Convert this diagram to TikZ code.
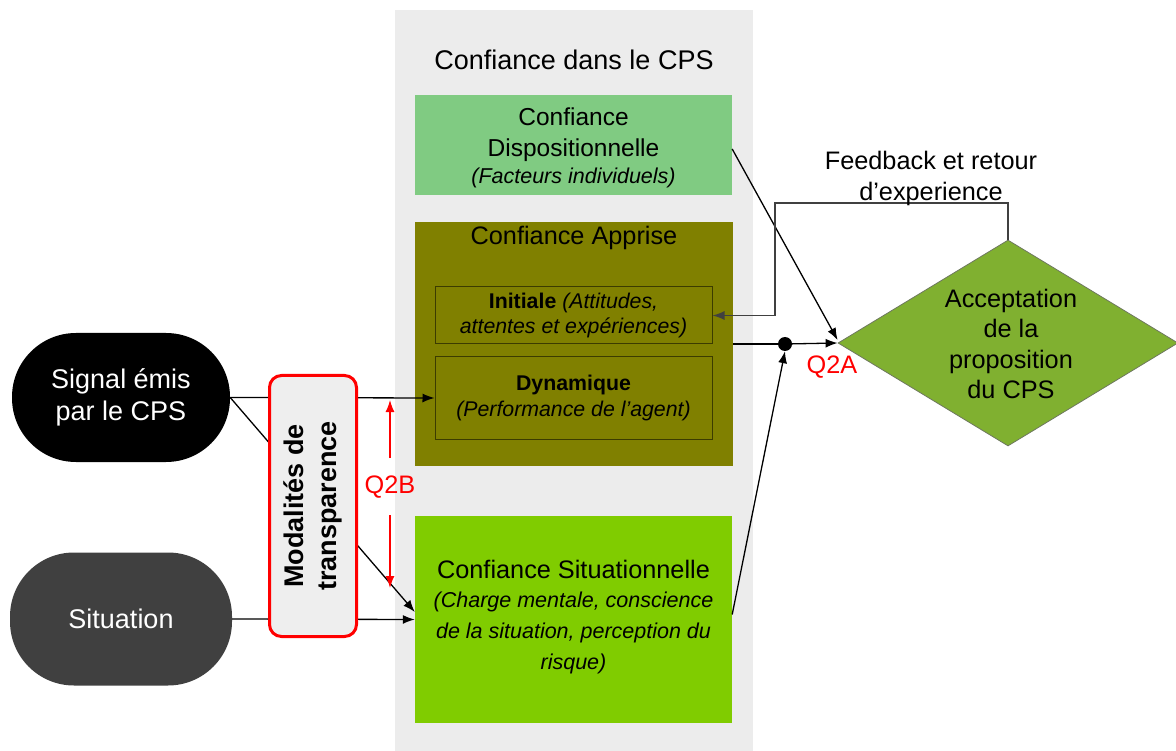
\documentclass[tikz,border=0pt]{standalone}
\usepackage{fontspec}
\setmainfont{Liberation Sans}
\usetikzlibrary{shapes.geometric,arrows.meta,calc}
\definecolor{panelgrey}{RGB}{236,236,236}
\definecolor{dispgreen}{RGB}{128,203,130}
\definecolor{olivebox}{RGB}{128,128,0}
\definecolor{olivedark}{RGB}{60,60,0}
\definecolor{sitgreen}{RGB}{128,204,0}
\definecolor{accgreen}{RGB}{128,176,48}
\definecolor{accedge}{RGB}{110,120,95}
\definecolor{sitgrey}{RGB}{64,64,64}
\definecolor{modalfill}{RGB}{238,238,238}
\definecolor{qred}{RGB}{255,0,0}
\newcommand{\fmain}{\fontsize{27}{32}\selectfont}
\newcommand{\fmid}{\fontsize{25.3}{31}\selectfont}
\newcommand{\fital}{\fontsize{21.5}{27.5}\selectfont\itshape}
\newcommand{\fsmall}{\fontsize{21.3}{25.5}\selectfont}
\tikzset{
  box/.style={rectangle, inner sep=0pt, draw=none, align=center, text=black},
  innerbox/.style={rectangle, inner sep=0pt, draw=olivedark, line width=1pt, fill=olivebox, align=center, text=black, font=\fsmall},
  pill/.style={rectangle, rounded corners=64pt, inner sep=0pt, text=white, align=center, font=\fmain},
  arr/.style={draw=black, line width=1.3pt, -{Latex[length=12pt,width=9pt]}},
  plain/.style={draw=black, line width=1.3pt},
  redarr/.style={draw=qred, line width=1.3pt, -{Latex[length=12pt,width=9pt]}},
  lbl/.style={inner sep=0pt, align=center, font=\fmid},
}
\begin{document}
\begin{tikzpicture}[x=1pt,y=-1pt]
\useasboundingbox (0,0) rectangle (1176,751);
% panel
\node[box, fill=panelgrey, minimum width=358pt, minimum height=741pt] (panel) at (574,380.5) {};
\node[lbl, font=\fmain] (title) at (574,60) {Confiance dans le CPS};
% boxes
\node[box, fill=dispgreen, minimum width=317pt, minimum height=100pt] (disp) at (573.5,145) {};
\node[lbl, font=\fontsize{24.5}{31}\selectfont] (disptxt) at (573.5,148) {Confiance\\Dispositionnelle\\[-4pt]\fital (Facteurs individuels)};
\node[box, fill=olivebox, minimum width=318pt, minimum height=244pt] (appr) at (574,344) {};
\node[lbl] (apprtitle) at (574,238) {Confiance Apprise};
\node[innerbox, minimum width=277pt, minimum height=57pt] (init) at (573.5,315.5)
  {\textbf{Initiale} \textit{(Attitudes,}\\\textit{attentes et expériences)}};
\node[innerbox, minimum width=277pt, minimum height=82pt] (dyn) at (573.5,398)
  {\textbf{Dynamique}\\\textit{(Performance de l’agent)}};
\node[box, fill=sitgreen, minimum width=317pt, minimum height=207pt] (sit) at (573.5,619.5) {};
\node[lbl] (sittxt) at (573.5,617)
  {Confiance Situationnelle\\[-2pt]\fital (Charge mentale, conscience\\\fital de la situation, perception du\\\fital risque)};
% left nodes
\node[pill, fill=black, minimum width=218pt, minimum height=129pt] (signal) at (121,397.5) {Signal émis\\par le CPS};
\node[pill, fill=sitgrey, minimum width=222pt, minimum height=133pt] (situation) at (121,619) {Situation};
% diamond
\node[diamond, fill=accgreen, draw=accedge, line width=0.8pt, inner sep=0pt, minimum width=340pt, minimum height=206pt] (acc) at (1008,343) {};
\node[lbl, font=\fontsize{25.3}{30.5}\selectfont] (acctxt) at (1011,344) {Acceptation\\de la\\proposition\\du CPS};
\node[circle, fill=black, minimum size=14pt, inner sep=0pt] (dot) at (785,344) {};
\coordinate (fb) at (775,203);
% connectors
\draw[arr] (signal.east) -- (dyn.west);
\draw[arr] (signal.east) -- ([yshift=7.5pt]sit.west);
\draw[arr] (situation.east) -- (sit.west);
\draw[plain] (appr.east) -- (dot);
\draw[arr] (dot) -- (acc.west);
\draw[arr] ([yshift=5pt]sit.east) -- (dot.south);
\draw[arr] ([yshift=-4pt]disp.east) -- ([yshift=3pt]acc.west);
\draw[arr, draw=black!75] (acc.north) |- (fb) |- (init.east);
\node[lbl] (fbtxt) at (931,178) {Feedback et retour\\d’experience};
\node[lbl, text=qred] (q2a) at (832,367) {Q2A};
% modalites box on top
\node[rectangle, rotate=90, rounded corners=12pt, draw=qred, line width=3pt, fill=modalfill, inner sep=0pt,
  minimum width=261pt, minimum height=87pt, align=center, font=\fontsize{27}{33}\selectfont\bfseries] (modal) at (313,506)
  {Modalités de\\transparence};
% Q2B
\node[lbl, text=qred] (q2b) at (390,487) {Q2B};
\draw[redarr] ($(q2b)+(0,-29)$) -- ($(q2b)+(0,-87)$);
\draw[redarr] ($(q2b)+(0,28)$) -- ($(q2b)+(0,101)$);
\end{tikzpicture}
\end{document}
